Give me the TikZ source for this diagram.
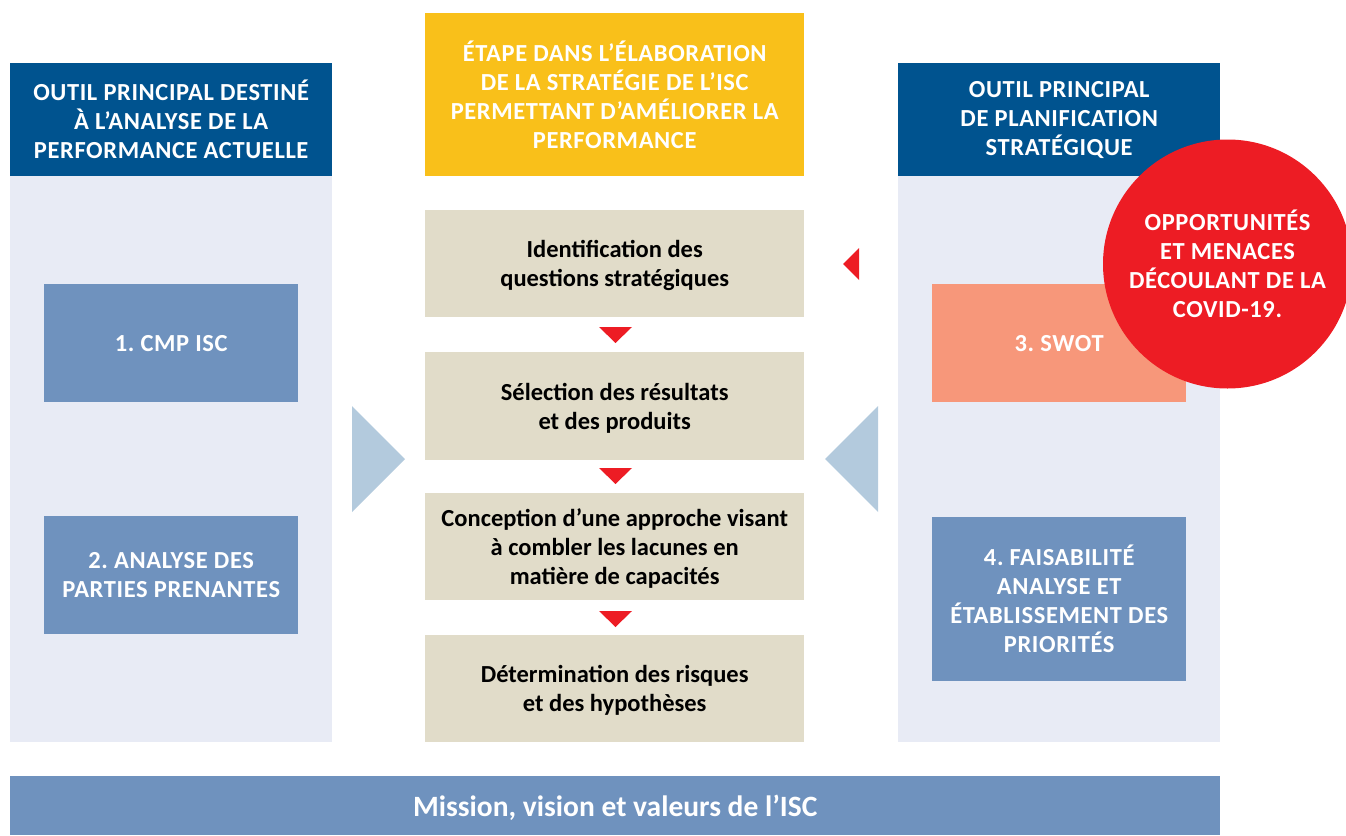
\documentclass[tikz,border=0pt]{standalone}
\usepackage{fontspec}
\setmainfont{Carlito}
\newfontfamily\capsfont{Carlito}[LetterSpace=2.5]
\frenchspacing
\definecolor{hdrblue}{HTML}{00538F}
\definecolor{panel}{HTML}{E8EBF5}
\definecolor{ylw}{HTML}{F9C01A}
\definecolor{beige}{HTML}{E1DCC9}
\definecolor{midblue}{HTML}{6F92BE}
\definecolor{salmon}{HTML}{F7977A}
\definecolor{redc}{HTML}{ED1C24}
\definecolor{ltblue}{HTML}{B3CADD}
\tikzset{
  box/.style={inner sep=0pt, align=center, anchor=north west},
  capstxt/.style={text=white, font=\capsfont\bfseries\fontsize{24.5}{29}\selectfont},
  steptxt/.style={text=black, text depth=0pt, font=\bfseries\fontsize{24.5}{29}\selectfont},
  redtri/.style={fill=redc},
  bigtri/.style={fill=ltblue}
}
\begin{document}
\begin{tikzpicture}[x=1pt,y=-1pt]
\useasboundingbox (0,0) rectangle (1346,835);
% panels
\fill[panel] (10,176) rectangle (332,742);
\fill[panel] (898,176) rectangle (1220,742);
% headers
\node[box, fill=hdrblue, minimum width=322pt, minimum height=113pt, capstxt] (hl) at (10,63)
  {OUTIL PRINCIPAL DESTINÉ\\À L’ANALYSE DE LA\\PERFORMANCE ACTUELLE};
\node[box, fill=ylw, minimum width=379pt, minimum height=163pt, capstxt] (hm) at (425,13)
  {ÉTAPE DANS L’ÉLABORATION\\DE LA STRATÉGIE DE L’ISC\\PERMETTANT D’AMÉLIORER LA\\PERFORMANCE};
\node[box, fill=hdrblue, minimum width=322pt, minimum height=113pt, capstxt] (hr) at (898,63)
  {OUTIL PRINCIPAL\\DE PLANIFICATION\\STRATÉGIQUE};
% left boxes
\node[box, fill=midblue, minimum width=254pt, minimum height=118pt, capstxt] (l1) at (44,284) {1. CMP ISC};
\node[box, fill=midblue, minimum width=254pt, minimum height=118pt, capstxt] (l2) at (44,516) {2. ANALYSE DES\\PARTIES PRENANTES};
% right boxes
\node[box, fill=salmon, minimum width=254pt, minimum height=118pt, capstxt] (r1) at (932,284) {3. SWOT};
\node[box, fill=midblue, minimum width=254pt, minimum height=164pt, capstxt] (r2) at (932,517) {4. FAISABILITÉ\\ANALYSE ET\\ÉTABLISSEMENT DES\\PRIORITÉS};
% middle steps
\node[box, fill=beige, minimum width=379pt, minimum height=107pt, steptxt] (m1) at (425,210) {Identification des\\questions stratégiques};
\node[box, fill=beige, minimum width=379pt, minimum height=108pt, steptxt] (m2) at (425,352) {Sélection des résultats\\et des produits};
\node[box, fill=beige, minimum width=379pt, minimum height=107pt, steptxt] (m3) at (425,493) {Conception d’une approche visant\\à combler les lacunes en\\matière de capacités};
\node[box, fill=beige, minimum width=379pt, minimum height=107pt, steptxt] (m4) at (425,635) {Détermination des risques\\et des hypothèses};
% red down triangles
\fill[redtri] (599,327) -- (632,327) -- (615.5,343) -- cycle;
\fill[redtri] (599,468) -- (632,468) -- (615.5,484) -- cycle;
\fill[redtri] (599,611) -- (632,611) -- (615.5,627) -- cycle;
% red left triangle
\fill[redtri] (859,248) -- (859,280) -- (843,264) -- cycle;
% big light blue triangles
\fill[bigtri] (352,406) -- (405,459) -- (352,512) -- cycle;
\fill[bigtri] (878,406) -- (825,459) -- (878,512) -- cycle;
% bottom banner
\node[box, fill=midblue, minimum width=1210pt, minimum height=59pt, text=white, text depth=0pt, font=\bfseries\fontsize{29.5}{32}\selectfont] (ban) at (10,776) {Mission, vision et valeurs de l’ISC};
% red circle
\begin{scope}
\clip (0,0) rectangle (1346,835);
\node[circle, fill=redc, minimum size=249pt, inner sep=0pt, align=center, capstxt] (c) at (1227.5,264)
  {OPPORTUNITÉS\\ET MENACES\\DÉCOULANT DE LA\\COVID-19.};
\end{scope}
\end{tikzpicture}
\end{document}
